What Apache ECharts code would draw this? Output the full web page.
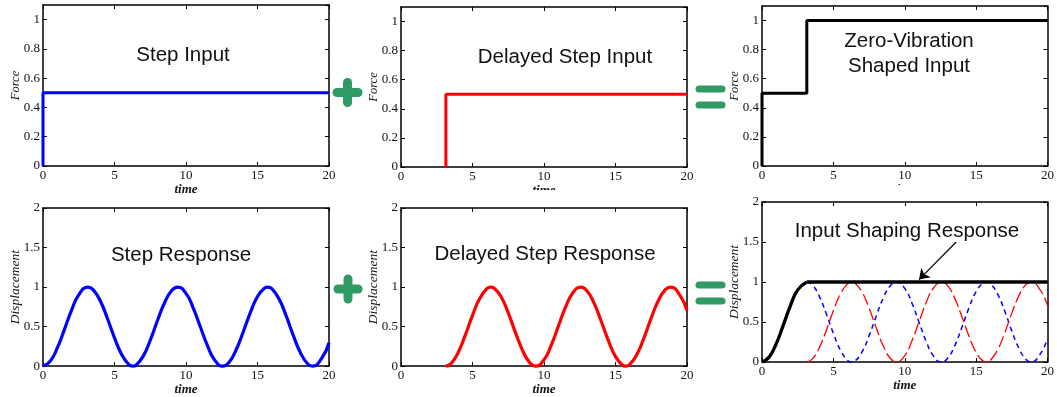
<!DOCTYPE html>
<html>
<head>
<meta charset="utf-8">
<script src="https://cdn.jsdelivr.net/npm/echarts@6/dist/echarts.min.js"></script>
<style>
html, body { margin: 0; padding: 0; background: #fff; }
#main { width: 1057px; height: 397px; }
</style>
</head>
<body>
<div id="main"></div>
<script>
// data: [time, value]
const stepInput = [[0, 0], [0, 0.5], [20, 0.5]];
const delayedInput = [[3.14, 0], [3.14, 0.5], [20, 0.5]];
const shapedInput = [[0, 0], [0, 0.5], [3.14, 0.5], [3.14, 1], [20, 1]];

const stepResponse = [
    [0, 0], [0.5, 0.061], [1, 0.23], [1.5, 0.465], [2, 0.708], [2.5, 0.901], [3.14, 1],
    [3.5, 0.968], [4, 0.827], [4.5, 0.605], [5, 0.358], [5.5, 0.146], [6, 0.02], [6.28, 0],
    [6.5, 0.012], [7, 0.123], [7.5, 0.327], [8, 0.573], [8.5, 0.801], [9, 0.956], [9.42, 1],
    [10, 0.92], [10.5, 0.738], [11, 0.498], [11.5, 0.258], [12, 0.078], [12.57, 0],
    [13, 0.046], [13.5, 0.203], [14, 0.432], [14.5, 0.677], [15, 0.88], [15.5, 0.989], [15.71, 1],
    [16, 0.979], [16.5, 0.851], [17, 0.638], [17.5, 0.389], [18, 0.17], [18.5, 0.03], [18.85, 0],
    [19.5, 0.102], [20, 0.296]
];
const delayedResponse = [
    [3.14, 0], [3.5, 0.032], [4, 0.173], [4.5, 0.395], [5, 0.642], [5.5, 0.854], [6, 0.98], [6.28, 1],
    [6.5, 0.988], [7, 0.877], [7.5, 0.673], [8, 0.427], [8.5, 0.199], [9, 0.044], [9.42, 0],
    [10, 0.08], [10.5, 0.262], [11, 0.502], [11.5, 0.742], [12, 0.922], [12.57, 1],
    [13, 0.954], [13.5, 0.797], [14, 0.568], [14.5, 0.323], [15, 0.12], [15.5, 0.011], [15.71, 0],
    [16, 0.021], [16.5, 0.149], [17, 0.362], [17.5, 0.611], [18, 0.83], [18.5, 0.97], [18.85, 1],
    [19.5, 0.898], [20, 0.704]
];
const shapedRise = stepResponse.filter(p => p[0] <= 3.14);
const shapedFlat = [[3.14, 1], [20, 1]];
const stepTail = stepResponse.filter(p => p[0] >= 3.14);

const forceTicks = { max: 1.1, interval: 0.2 };
const dispTicks = { max: 2, interval: 0.5 };

const serif = 'Liberation Serif';
const green = '#2f9a64';
const myChart = echarts.init(document.getElementById('main'));

const grids = [
    { left: 43, top: 5, width: 286, height: 161 },
    { left: 401, top: 7, width: 286, height: 160 },
    { left: 762, top: 6, width: 286, height: 160 },
    { left: 43, top: 208, width: 286, height: 160 },
    { left: 401, top: 208, width: 286, height: 159 },
    { left: 762, top: 202, width: 286, height: 160 }
];
const yNames = ['Force', 'Force', 'Force', 'Displacement', 'Displacement', 'Displacement'];

const lineOpt = { show: true, onZero: false, lineStyle: { color: '#000', width: 1.5 } };
const tickOpt = { inside: true, length: 4, lineStyle: { color: '#000', width: 1 } };
const labelOpt = { fontFamily: serif, fontSize: 13, color: '#111', margin: 3 };

let xAxis = [], yAxis = [];
grids.forEach((g, i) => {
    const xb = { type: 'value', gridIndex: i, min: 0, max: 20, interval: 5,
        axisLine: lineOpt, axisTick: tickOpt, splitLine: { show: false } };
    xAxis.push(Object.assign({}, xb, {
        position: 'bottom', name: 'time', nameLocation: 'middle', nameGap: 15,
        nameTextStyle: { fontFamily: serif, fontStyle: 'italic', fontWeight: 'bold', fontSize: 13, color: '#111' },
        axisLabel: labelOpt
    }));
    xAxis.push(Object.assign({}, xb, { position: 'top', axisLabel: { show: false } }));

    const t = i < 3 ? forceTicks : dispTicks;
    const yb = { type: 'value', gridIndex: i, min: 0, max: t.max, interval: t.interval,
        axisLine: lineOpt, axisTick: tickOpt, splitLine: { show: false } };
    yAxis.push(Object.assign({}, yb, {
        position: 'left', name: yNames[i], nameLocation: 'middle', nameGap: 21,
        nameMoveOverlap: false,
        nameTextStyle: { fontFamily: serif, fontStyle: 'italic', fontSize: i < 3 ? 12.5 : 13.5, color: '#111' },
        axisLabel: Object.assign({}, labelOpt, { showMaxLabel: i >= 3 })
    }));
    yAxis.push(Object.assign({}, yb, { position: 'right', axisLabel: { show: false } }));
});

function line(i, data, color, width, extra) {
    return Object.assign({
        type: 'line', xAxisIndex: 2 * i, yAxisIndex: 2 * i, data: data,
        symbol: 'none', clip: false, silent: true,
        lineStyle: { color: color, width: width }
    }, extra || {});
}

const series = [
    line(0, stepInput, '#0000ff', 3),
    line(1, delayedInput, '#ff0000', 3),
    line(2, shapedInput, '#000', 3),
    line(3, stepResponse, '#0000ff', 3.2, { smooth: true }),
    line(4, delayedResponse, '#ff0000', 3.2, { smooth: true }),
    line(5, stepTail, '#0000ff', 1.5, { smooth: true, lineStyle: { color: '#0000ff', width: 1.5, type: [5, 4] } }),
    line(5, delayedResponse, '#ff0000', 1.3, { smooth: true, lineStyle: { color: '#ff0000', width: 1.3, type: [12, 4] } }),
    line(5, shapedRise, '#000', 3.3, { smooth: true }),
    line(5, shapedFlat, '#000', 3.3, {
        markLine: {
            silent: true, symbol: ['none', 'arrow'], symbolSize: 10,
            label: { show: false },
            lineStyle: { color: '#000', width: 1.2, type: 'solid' },
            data: [[{ coord: [13.6, 1.5] }, { coord: [11.0, 1.03] }]]
        }
    })
];

const titleFont = '20.5px "Liberation Sans"';
function title(x, y, text) {
    return { type: 'text', x: x, y: y, z: 50,
        style: { text: text, font: titleFont, fill: '#111', textAlign: 'center', textVerticalAlign: 'middle' } };
}
function bar(x1, y1, x2, y2, w) {
    return { type: 'line', z: 50, shape: { x1: x1, y1: y1, x2: x2, y2: y2 },
        style: { stroke: green, lineWidth: w, lineCap: 'round' } };
}

const graphic = [
    title(183, 55, 'Step Input'),
    title(565, 57, 'Delayed Step Input'),
    title(909, 41, 'Zero-Vibration'),
    title(909, 66, 'Shaped Input'),
    title(181, 255, 'Step Response'),
    title(545, 254, 'Delayed Step Response'),
    title(907, 231, 'Input Shaping Response'),
    // plus / equals signs
    bar(337, 92.5, 358, 92.5, 9), bar(347.5, 82.5, 347.5, 102.5, 9),
    bar(338, 289, 358, 289, 9), bar(348, 279, 348, 299, 9),
    bar(699, 89, 722, 89, 7), bar(699, 105, 722, 105, 7),
    bar(699, 285, 722, 285, 7), bar(699, 301, 722, 301, 7),
    // lower panels overlap the bottom of the upper ones
    { type: 'rect', z: 100, shape: { x: 400, y: 190, width: 295, height: 11 }, style: { fill: '#fff' } },
    { type: 'rect', z: 100, shape: { x: 730, y: 185, width: 327, height: 11 }, style: { fill: '#fff' } }
];

const option = {
    animation: false,
    backgroundColor: '#fff',
    grid: grids,
    xAxis: xAxis,
    yAxis: yAxis,
    series: series,
    graphic: graphic
};
myChart.setOption(option, true);
</script>
</body>
</html>
